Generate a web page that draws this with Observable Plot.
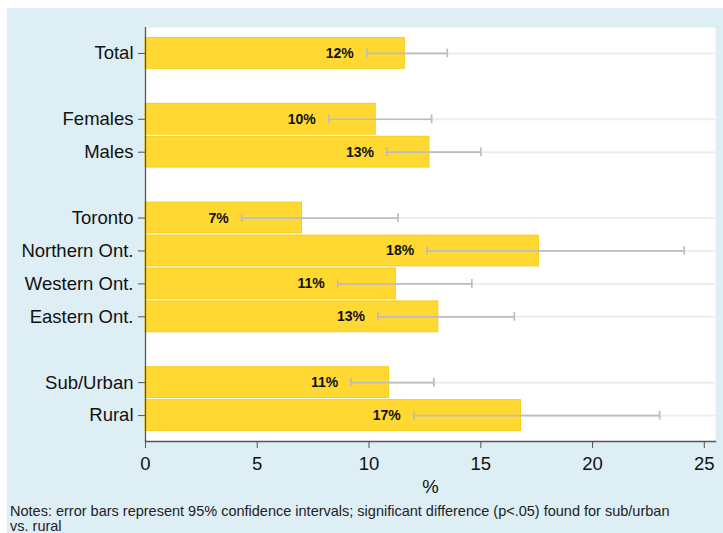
<!DOCTYPE html>
<html>
<head>
<meta charset="utf-8">
<script src="https://cdn.jsdelivr.net/npm/d3@7"></script>
<script src="https://cdn.jsdelivr.net/npm/@observablehq/plot@0.6"></script>
<style>
  html, body { margin: 0; padding: 0; background: #ffffff; }
  #panel { position: absolute; left: 7px; top: 8px; width: 716px; height: 525px; background: #deeef5; overflow: hidden; }
  #chart { position: absolute; left: 0; top: 0; }
  #notes { position: absolute; left: 3px; top: 496px; font-family: "Liberation Sans", Arial, sans-serif; font-size: 14.5px; line-height: 15px; color: #222; white-space: nowrap; }
</style>
</head>
<body>
<div id="panel">
  <div id="chart"></div>
  <div id="notes">Notes: error bars represent 95% confidence intervals; significant difference (p&lt;.05) found for sub/urban<br>vs. rural</div>
</div>
<script>
const categories = ["Total", "Females", "Males", "Toronto", "Northern Ont.", "Western Ont.", "Eastern Ont.", "Sub/Urban", "Rural"];
const estimates = [11.6, 10.3, 12.7, 7.0, 17.6, 11.2, 13.1, 10.9, 16.8];
const ciLower = [9.9, 8.2, 10.8, 4.3, 12.6, 8.6, 10.4, 9.2, 12.0];
const ciUpper = [13.5, 12.8, 15.0, 11.3, 24.1, 14.6, 16.5, 12.9, 23.0];
const valueLabels = ["12%", "10%", "13%", "7%", "18%", "11%", "13%", "11%", "17%"];
const bandOrder = ["Total", "gap1", "Females", "Males", "gap2", "Toronto", "Northern Ont.", "Western Ont.", "Eastern Ont.", "gap3", "Sub/Urban", "Rural"];
const xTicks = [0, 5, 10, 15, 20, 25];

const data = categories.map((c, i) => ({cat: c, est: estimates[i], lo: ciLower[i], hi: ciUpper[i], label: valueLabels[i]}));

const axisColor = "#555555";
const errColor = "#bdbdbd";

const chart = Plot.plot({
  width: 716,
  height: 495,
  marginLeft: 138,
  marginRight: 8,
  marginTop: 19,
  marginBottom: 62,
  style: {background: "transparent", fontFamily: "'Liberation Sans', Arial, sans-serif", color: "#111"},
  x: {domain: [0, 25.5]},
  y: {domain: bandOrder, paddingInner: 0.065, paddingOuter: 0.32, round: false},
  marks: [
    Plot.frame({fill: "white", stroke: "none"}),
    Plot.gridY(categories, {stroke: "#e8eff3", strokeOpacity: 1, strokeWidth: 2}),
    Plot.barX(data, {x: "est", y: "cat", fill: "#ffd932", stroke: "#f3cd1c", strokeWidth: 1}),
    Plot.ruleY(data, {y: "cat", x1: "lo", x2: "hi", stroke: errColor, strokeWidth: 1.7}),
    Plot.tickX(data, {x: "lo", y: "cat", insetTop: 11, insetBottom: 11, stroke: errColor, strokeWidth: 1.7}),
    Plot.tickX(data, {x: "hi", y: "cat", insetTop: 11, insetBottom: 11, stroke: errColor, strokeWidth: 1.7}),
    Plot.text(data, {x: "lo", y: "cat", text: "label", textAnchor: "end", dx: -13, fontWeight: "bold", fontSize: 14, fill: "#111"}),
    Plot.ruleX([0], {stroke: axisColor, strokeWidth: 1.3}),
    Plot.frame({anchor: "bottom", stroke: axisColor, strokeWidth: 1.3}),
    Plot.axisY({ticks: categories, tickSize: 7, tickPadding: 5, fontSize: 18.5, stroke: axisColor, fill: "#111", label: null}),
    Plot.axisX({ticks: xTicks, tickSize: 7, tickPadding: 8, fontSize: 18.5, stroke: axisColor, fill: "#111", label: "%", labelAnchor: "center", labelArrow: "none", labelOffset: 51})
  ]
});
document.getElementById("chart").appendChild(chart);
</script>
</body>
</html>
